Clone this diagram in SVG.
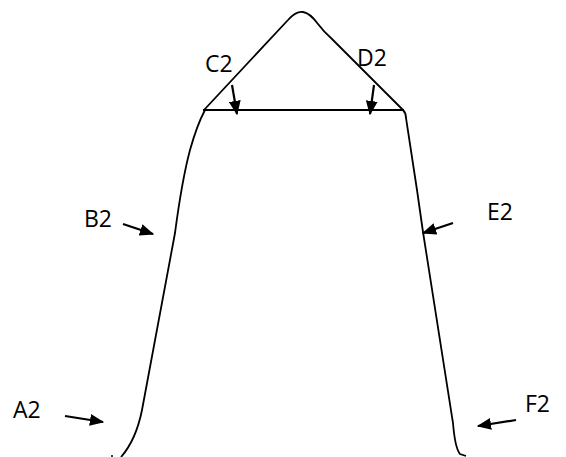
<svg xmlns="http://www.w3.org/2000/svg" width="566" height="457" viewBox="0 0 566 457">
<style>
.lbl{font-family:"Open Sans","Liberation Sans",Arial,sans-serif;font-size:23px;fill:#000}
.curve{fill:none;stroke:#000;stroke-width:1.8}
.arr{fill:none;stroke:#000;stroke-width:2.2;marker-end:url(#ah)}
</style>
<defs>
<marker id="ah" viewBox="0 0 12 10" refX="11" refY="5" markerWidth="6.5" markerHeight="5.8" markerUnits="strokeWidth" orient="auto">
<path d="M0,0 L12,5 L0,10 Z" fill="#000"/>
</marker>
</defs>
<rect width="566" height="457" fill="#fff"/>
<g id="shape">
<path class="curve" d="M204,110 L288,20 Q296,11 303,12 Q310,13 318,24 Q324,32 332,39 L403,110"/>
<path class="curve" d="M203,110 L404,110" stroke-width="2.6"/>
<path class="curve" d="M205,110 Q197,125 190,150 Q182,180 175,233 L142,410 Q136,440 121,457"/>
<path class="curve" d="M403,110 Q406,113 406,118 L417,190 L423,232 L453,423 Q455,448 460,454 L466,456"/>
<circle cx="112" cy="456" r="1" fill="#000"/>
</g>
<g id="connectors">
<line class="arr" x1="232" y1="85" x2="237" y2="114"/>
<line class="arr" x1="374" y1="85" x2="370" y2="114"/>
<line class="arr" x1="123" y1="224" x2="153" y2="234"/>
<line class="arr" x1="453" y1="223" x2="423" y2="233"/>
<line class="arr" x1="65" y1="416" x2="103" y2="422"/>
<line class="arr" x1="516" y1="420" x2="478" y2="426"/>
</g>
<g id="labels">
<text class="lbl" x="205" y="72">C2</text>
<text class="lbl" x="357" y="66">D2</text>
<text class="lbl" x="84" y="227">B2</text>
<text class="lbl" x="487" y="220">E2</text>
<text class="lbl" x="13" y="418">A2</text>
<text class="lbl" x="525" y="412">F2</text>
</g>
</svg>
